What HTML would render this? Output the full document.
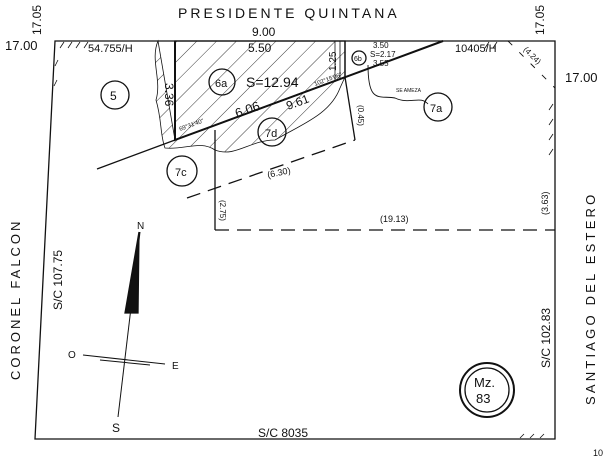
<!DOCTYPE html>
<html><head><style>body{margin:0;background:#fff;overflow:hidden}svg{display:block}text{font-family:"Liberation Sans",sans-serif;fill:#111}</style></head>
<body>
<svg width="610" height="457" viewBox="0 0 610 457" xmlns="http://www.w3.org/2000/svg">
<defs><pattern id="h" width="14" height="14" patternUnits="userSpaceOnUse" patternTransform="rotate(45)"><line x1="0" y1="0" x2="0" y2="14" stroke="#222" stroke-width="0.9"/></pattern></defs>
<g stroke="#111" fill="none" stroke-width="1.3">
<path d="M55,41 L555,41 L555,439 L35,439 Z"/>
<path d="M158,41 C150,60 162,80 156,100 C162,120 160,135 165,148 C185,150 200,140 215,150 C235,158 250,140 275,140 C300,125 330,115 340,88 L345,77 L175,140 Z" stroke-width="0.8" fill="url(#h)"/>
<path d="M175,41 L345,41 L345,77 L175,140 Z" fill="url(#h)"/>
<path d="M175,41 L175,140 L443,41" stroke-width="2"/>
<path d="M97,169 L175,140"/>
<line x1="335" y1="41" x2="335" y2="82" stroke-width="0.8"/><line x1="340" y1="41" x2="340" y2="80" stroke-width="0.8"/><line x1="345" y1="41" x2="345" y2="77"/>
<line x1="345" y1="77" x2="355" y2="140"/>
<line x1="215" y1="130" x2="215" y2="230"/>
<path d="M187,198 L355,140" stroke-dasharray="14,8"/>
<path d="M215,230 L555,230" stroke-dasharray="14,8"/>
<path d="M368,65 C368,105 380,95 395,98 C410,105 420,95 428,104" stroke-width="0.9"/>
<path d="M508,41 L555,88" stroke-dasharray="6,10" stroke-width="0.9"/>
<path d="M60,48 l4,-6 M68,48 l4,-6 M76,48 l4,-6 M84,48 l4,-6 M58,60 l-3,6 M57,80 l-3,6 M485,48 l4,-6 M493,48 l4,-6 M549,110 l4,-6 M549,125 l4,-6 M549,140 l4,-6 M549,155 l4,-6 M520,438 l4,-4 M530,438 l4,-4 M540,438 l4,-4" stroke-width="0.8"/>
<circle cx="115" cy="95" r="14"/><circle cx="222" cy="82" r="13"/><circle cx="359" cy="58" r="7"/>
<circle cx="272" cy="132" r="14"/><circle cx="182" cy="171" r="15"/><circle cx="438" cy="107" r="14"/>
<circle cx="487" cy="390" r="27" stroke-width="2"/><circle cx="487" cy="390" r="22"/>
<line x1="140" y1="232" x2="118" y2="417" stroke-width="1"/>
<path d="M139,232 L125,313 L138,313 Z" fill="#111"/>
<line x1="83" y1="355" x2="165" y2="364" stroke-width="1"/><line x1="100" y1="360" x2="150" y2="365" stroke-width="1"/>
</g>
<g font-size="12">
<text x="178" y="18" font-size="14" letter-spacing="3">PRESIDENTE QUINTANA</text>
<text x="252" y="36">9.00</text>
<text x="5" y="50" font-size="13">17.00</text>
<text x="565" y="82" font-size="13">17.00</text>
<text x="88" y="52" font-size="11">54.755/H</text>
<text x="455" y="52" font-size="11">10405/H</text>
<text x="248" y="52">5.50</text>
<text x="110" y="100">5</text>
<text x="215" y="87" font-size="11">6a</text>
<text x="354" y="61" font-size="7">6b</text>
<text x="246" y="87" font-size="14">S=12.94</text>
<text x="265" y="137" font-size="11">7d</text>
<text x="175" y="176" font-size="11">7c</text>
<text x="430" y="112" font-size="11">7a</text>
<text x="237" y="118" font-size="13" transform="rotate(-20 237 118)">6.06</text>
<text x="288" y="110" font-size="12" transform="rotate(-20 288 110)">9.61</text>
<text x="373" y="48" font-size="8">3.50</text><text x="370" y="57" font-size="8">S=2.17</text><text x="373" y="66" font-size="8">3.55</text>
<text x="258" y="437" font-size="12">S/C 8035</text>
<text x="474" y="387" font-size="13">Mz.</text><text x="476" y="403" font-size="13">83</text>
<text x="137" y="229" font-size="10">N</text><text x="68" y="358" font-size="10">O</text><text x="172" y="369" font-size="10">E</text><text x="112" y="432" font-size="12">S</text>
<text x="268" y="178" font-size="9" transform="rotate(-12 268 178)">(6.30)</text>
<text x="380" y="222" font-size="9">(19.13)</text>
<text x="396" y="92" font-size="5">SE AMEZA</text>
<text x="180" y="131" font-size="6" transform="rotate(-20 180 131)">69°31'40"</text>
<text x="315" y="86" font-size="6" transform="rotate(-20 315 86)">102°15'06"</text>
<text x="593" y="456" font-size="9">10</text>
</g>
<g font-size="12">
<text transform="translate(20,380) rotate(-90)" letter-spacing="3" font-size="13">CORONEL FALCON</text>
<text transform="translate(62,310) rotate(-90)">S/C 107.75</text>
<text transform="translate(595,405) rotate(-90)" letter-spacing="3.2" font-size="13">SANTIAGO DEL ESTERO</text>
<text transform="translate(550,368) rotate(-90)">S/C 102.83</text>
<text transform="translate(41,35) rotate(-90)">17.05</text>
<text transform="translate(544,35) rotate(-90)">17.05</text>
<text transform="translate(165,83) rotate(90)">3.36</text>
<text transform="translate(336,71) rotate(-90)" font-size="10">1.25</text>
<text transform="translate(548,215) rotate(-90)" font-size="9">(3.63)</text>
<text transform="translate(358,105) rotate(90)" font-size="8">(0.45)</text>
<text transform="translate(220,200) rotate(90)" font-size="8">(2.75)</text>
<text transform="translate(523,50) rotate(45)" font-size="8">(4.24)</text>
</g>
</svg>
</body></html>
